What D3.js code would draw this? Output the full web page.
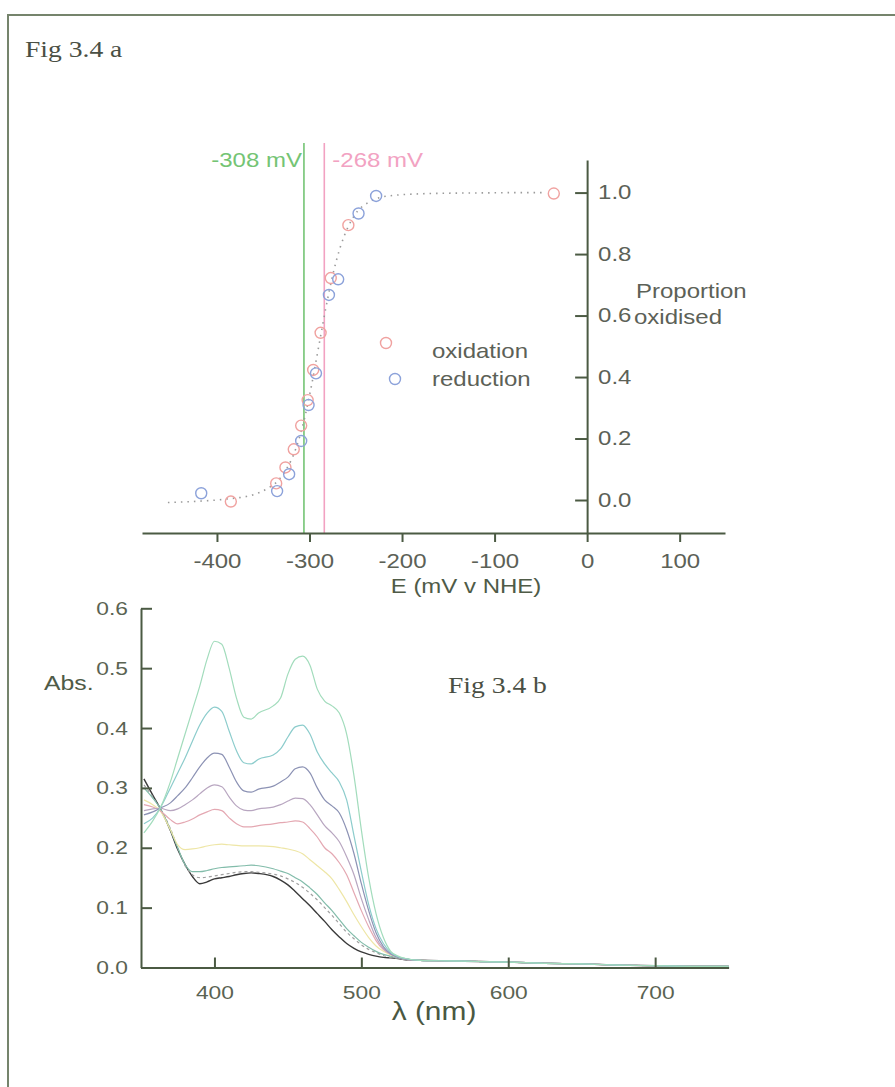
<!DOCTYPE html>
<html>
<head>
<meta charset="utf-8">
<script src="https://cdn.jsdelivr.net/npm/d3@7"></script>
<style>
  body { margin: 0; background: #fff; }
  svg { display: block; }
  .axis path, .axis line { stroke: #4b5a43; stroke-width: 2; }
</style>
</head>
<body>
<div id="fig"></div>
<script>

// ---- Fig 3.4 a : redox titration ----
var oxE  = [-385, -336, -326, -317, -309, -302, -296, -288, -277, -258, -36];
var oxP  = [-0.005, 0.054, 0.106, 0.165, 0.242, 0.325, 0.423, 0.544, 0.722, 0.894, 0.997];
var redE = [-417, -335, -322, -309, -301, -293, -279, -269, -247, -228];
var redP = [0.022, 0.029, 0.084, 0.192, 0.309, 0.412, 0.667, 0.718, 0.932, 0.989];

// dotted fit
var fitE = [-453, -420, -390, -360, -345, -335, -325, -315, -305, -298, -290, -282, -275, -267, -258, -248, -238, -225, -205, -180, -150, -110, -70, -45];
var fitP = [-0.008, -0.004, 0.003, 0.018, 0.038, 0.06, 0.1, 0.165, 0.27, 0.37, 0.5, 0.63, 0.73, 0.82, 0.89, 0.94, 0.965, 0.983, 0.992, 0.996, 0.998, 0.999, 1.0, 1.0];

var midE     = [-306, -284];
var midLabel = ["-308 mV", "-268 mV"];
var midColor = ["#74c474", "#f2a2c2"];

var eTicks = [-400, -300, -200, -100, 0, 100];
var pTicks = [0, 0.2, 0.4, 0.6, 0.8, 1.0];

// ---- Fig 3.4 b : spectra ----
var wl = [352, 358, 363, 370, 375, 380, 385, 390, 395, 400,
          405, 410, 415, 420, 425, 430, 440, 445, 450, 455,
          460, 465, 470, 475, 480, 485, 490, 495, 500, 505,
          510, 515, 520, 525, 530, 540, 560, 580, 600, 625,
          650, 675, 700, 725, 750];

var spec1 = [0.225, 0.245, 0.266, 0.31, 0.35, 0.39, 0.43, 0.47, 0.515, 0.545,
             0.54, 0.5, 0.45, 0.418, 0.415, 0.425, 0.437, 0.45, 0.49, 0.515,
             0.52, 0.505, 0.465, 0.445, 0.437, 0.425, 0.39, 0.32, 0.23, 0.15,
             0.09, 0.05, 0.027, 0.019, 0.015, 0.012, 0.011, 0.010, 0.009, 0.007,
             0.006, 0.004, 0.003, 0.002, 0.002];
var spec2 = [0.24, 0.25, 0.266, 0.3, 0.325, 0.35, 0.378, 0.405, 0.425, 0.435,
             0.428, 0.395, 0.362, 0.342, 0.34, 0.348, 0.355, 0.365, 0.385, 0.402,
             0.405, 0.39, 0.36, 0.34, 0.325, 0.31, 0.28, 0.22, 0.16, 0.105,
             0.065, 0.04, 0.025, 0.018, 0.015, 0.012, 0.011, 0.010, 0.009, 0.007,
             0.006, 0.004, 0.003, 0.002, 0.002];
var spec3 = [0.255, 0.26, 0.266, 0.275, 0.287, 0.3, 0.317, 0.335, 0.35, 0.358,
             0.356, 0.335, 0.31, 0.295, 0.293, 0.298, 0.303, 0.31, 0.318, 0.332,
             0.335, 0.325, 0.3, 0.28, 0.27, 0.258, 0.23, 0.19, 0.14, 0.095,
             0.058, 0.035, 0.023, 0.017, 0.014, 0.012, 0.011, 0.010, 0.009, 0.007,
             0.006, 0.004, 0.003, 0.002, 0.002];
var spec4 = [0.262, 0.265, 0.266, 0.262, 0.265, 0.272, 0.28, 0.29, 0.3, 0.305,
             0.302, 0.285, 0.27, 0.263, 0.262, 0.265, 0.268, 0.272, 0.278, 0.283,
             0.282, 0.272, 0.255, 0.237, 0.225, 0.21, 0.185, 0.155, 0.115, 0.08,
             0.05, 0.032, 0.022, 0.017, 0.014, 0.012, 0.011, 0.010, 0.009, 0.007,
             0.006, 0.004, 0.003, 0.002, 0.002];
var spec5 = [0.272, 0.268, 0.262, 0.247, 0.24, 0.243, 0.248, 0.255, 0.26, 0.264,
             0.262, 0.25, 0.24, 0.235, 0.235, 0.237, 0.24, 0.242, 0.243, 0.245,
             0.243, 0.232, 0.218, 0.2, 0.19, 0.175, 0.155, 0.125, 0.095, 0.068,
             0.045, 0.03, 0.022, 0.017, 0.014, 0.012, 0.011, 0.010, 0.009, 0.007,
             0.006, 0.004, 0.003, 0.002, 0.002];
var spec6 = [0.28, 0.272, 0.262, 0.23, 0.205, 0.197, 0.198, 0.2, 0.203, 0.205,
             0.206, 0.205, 0.204, 0.203, 0.203, 0.203, 0.202, 0.2, 0.198, 0.195,
             0.19, 0.18, 0.17, 0.16, 0.148, 0.13, 0.11, 0.088, 0.068, 0.05,
             0.036, 0.027, 0.021, 0.017, 0.014, 0.012, 0.011, 0.010, 0.009, 0.007,
             0.006, 0.004, 0.003, 0.002, 0.002];
var spec7 = [0.3, 0.283, 0.266, 0.23, 0.2, 0.172, 0.16, 0.16, 0.162, 0.165,
             0.167, 0.168, 0.169, 0.17, 0.171, 0.17, 0.165, 0.161, 0.157, 0.15,
             0.143, 0.133, 0.122, 0.108, 0.095, 0.08, 0.065, 0.053, 0.042, 0.034,
             0.027, 0.022, 0.019, 0.016, 0.014, 0.012, 0.011, 0.010, 0.009, 0.007,
             0.006, 0.004, 0.003, 0.002, 0.002];
var spec8 = [0.305, 0.285, 0.266, 0.232, 0.2, 0.17, 0.155, 0.15, 0.151, 0.153,
             0.155, 0.157, 0.159, 0.16, 0.16, 0.159, 0.156, 0.153, 0.148, 0.142,
             0.134, 0.124, 0.113, 0.1, 0.087, 0.073, 0.059, 0.048, 0.038, 0.03,
             0.025, 0.02, 0.017, 0.015, 0.013, 0.012, 0.011, 0.010, 0.009, 0.007,
             0.006, 0.004, 0.003, 0.002, 0.002];
var spec9 = [0.315, 0.288, 0.266, 0.229, 0.197, 0.172, 0.152, 0.14, 0.143, 0.148,
             0.15, 0.152, 0.155, 0.157, 0.158, 0.157, 0.152, 0.146, 0.138, 0.127,
             0.115, 0.103, 0.09, 0.077, 0.063, 0.051, 0.04, 0.032, 0.026, 0.022,
             0.019, 0.017, 0.016, 0.015, 0.013, 0.012, 0.011, 0.010, 0.009, 0.007,
             0.006, 0.004, 0.003, 0.002, 0.002];

var spectra     = [spec1, spec2, spec3, spec4, spec5, spec6, spec7, spec8, spec9];
var specColors  = ["#a2dcbc", "#8ccccc", "#8c92b4", "#b8a6c0", "#e4a8b2", "#eee6a6", "#82bcaa", "#a0a0a0", "#3a3a3a"];
var specDash    = [null, null, null, null, null, null, null, "3,3", null];

var wlTicks  = [400, 500, 600, 700];
var absTicks = [0.0, 0.1, 0.2, 0.3, 0.4, 0.5, 0.6];

var SX = 1.2;   // the scan is stretched sideways
var sans = "'Liberation Sans', Arial, sans-serif";
var serif = "'Liberation Serif', 'Times New Roman', serif";

var svg = d3.select("#fig").append("svg").attr("width", 895).attr("height", 1087);

function label(sel, x, y, s, o) {
    return sel.append("text")
        .attr("transform", "translate(" + x + "," + y + ") scale(" + (o.sx || SX) + ",1)")
        .attr("text-anchor", o.anchor || "start")
        .style("font-family", o.family || sans)
        .style("font-size", o.size + "px")
        .attr("fill", o.color || "#5c6157")
        .text(s);
}

// frame
svg.append("path")
    .attr("d", "M8,1087 L8,15 L895,15")
    .attr("fill", "none").attr("stroke", "#75846c").attr("stroke-width", 2);

label(svg, 25, 57, "Fig 3.4 a", {size: 23, family: serif, color: "#4a4f44", sx: 1.2});

// ---------------- top chart ----------------
var x = d3.scaleLinear().domain([-481, 149]).range([142, 725]);
var y = d3.scaleLinear().domain([-0.1073, 1.106]).range([533, 160]);

var gTop = svg.append("g");

// mid-point lines
midE.forEach(function (e, i) {
    gTop.append("line")
        .attr("x1", x(e)).attr("x2", x(e))
        .attr("y1", 143).attr("y2", 533)
        .attr("stroke", midColor[i]).attr("stroke-width", 1.6);
});
label(gTop, x(midE[0]) - 2, 167, midLabel[0], {size: 20, anchor: "end", color: midColor[0]});
label(gTop, x(midE[1]) + 8, 167, midLabel[1], {size: 20, color: midColor[1]});

var fit = d3.line()
    .x(function (d, i) { return x(fitE[i]); })
    .y(function (d) { return y(d); })
    .curve(d3.curveMonotoneX);

gTop.append("path")
    .datum(fitP)
    .attr("d", fit)
    .attr("fill", "none")
    .attr("stroke", "#9a9a9a")
    .attr("stroke-width", 1.6)
    .attr("stroke-dasharray", "1.5,5");

gTop.selectAll(".ox").data(oxE).enter().append("circle")
    .attr("cx", function (d) { return x(d); })
    .attr("cy", function (d, i) { return y(oxP[i]); })
    .attr("r", 5.5)
    .attr("fill", "none").attr("stroke", "#f0a2a0").attr("stroke-width", 1.4);

gTop.selectAll(".red").data(redE).enter().append("circle")
    .attr("cx", function (d) { return x(d); })
    .attr("cy", function (d, i) { return y(redP[i]); })
    .attr("r", 5.5)
    .attr("fill", "none").attr("stroke", "#8ca2da").attr("stroke-width", 1.4);

// legend
gTop.append("circle").attr("cx", 386).attr("cy", 343).attr("r", 5.5)
    .attr("fill", "none").attr("stroke", "#f0a2a0").attr("stroke-width", 1.4);
gTop.append("circle").attr("cx", 395).attr("cy", 379).attr("r", 5.5)
    .attr("fill", "none").attr("stroke", "#8ca2da").attr("stroke-width", 1.4);
label(gTop, 432, 358, "oxidation", {size: 20});
label(gTop, 432, 386, "reduction", {size: 20});

// axes (plain hyphen minus like the original)
var xAx = gTop.append("g")
    .attr("class", "axis")
    .attr("transform", "translate(0,533)")
    .call(d3.axisBottom(x).tickValues(eTicks).tickFormat(function (d) { return String(d); })
          .tickSize(9).tickSizeOuter(0).tickPadding(12));
xAx.selectAll("text")
    .attr("transform", "scale(" + SX + ",1)")
    .style("font-family", sans).style("font-size", "20px").attr("fill", "#5c6157");

var yAx = gTop.append("g")
    .attr("class", "axis")
    .attr("transform", "translate(" + x(0) + ",0)")
    .call(d3.axisLeft(y).tickValues(pTicks).tickFormat(d3.format(".1f")).tickSize(12).tickSizeOuter(0));
yAx.selectAll("text")
    .attr("x", 11 / SX)
    .attr("text-anchor", "start")
    .attr("transform", "scale(" + SX + ",1)")
    .style("font-family", sans).style("font-size", "20px").attr("fill", "#5c6157");

label(gTop, 636, 298, "Proportion", {size: 20});
label(gTop, 634, 324, "oxidised", {size: 20});
label(gTop, 466, 593, "E (mV v NHE)", {size: 20, anchor: "middle", color: "#4f5b47"});

// ---------------- bottom chart ----------------
var xs = d3.scaleLinear().domain([350, 750]).range([141, 728.6]);
var ys = d3.scaleLinear().domain([0, 0.6]).range([967.5, 608.3]);

var gBot = svg.append("g");

var specLine = d3.line()
    .x(function (d, i) { return xs(wl[i]); })
    .y(function (d) { return ys(d); })
    .curve(d3.curveMonotoneX);

// draw light ones first, black on top
spectra.slice().reverse().forEach(function (s, j) {
    var i = spectra.length - 1 - j;
    gBot.append("path")
        .datum(s)
        .attr("d", specLine)
        .attr("fill", "none")
        .attr("stroke", specColors[i])
        .attr("stroke-width", i === 8 ? 1.4 : 1.2)
        .attr("stroke-dasharray", specDash[i]);
});

var xbAx = gBot.append("g")
    .attr("class", "axis")
    .attr("transform", "translate(0,967.5)")
    .call(d3.axisBottom(xs).tickValues(wlTicks).tickSize(-10).tickSizeOuter(0).tickPadding(18));
xbAx.selectAll("text")
    .attr("transform", "scale(" + SX + ",1)")
    .style("font-family", sans).style("font-size", "19px").attr("fill", "#5a6352");

var ybAx = gBot.append("g")
    .attr("class", "axis")
    .attr("transform", "translate(141,0)")
    .call(d3.axisLeft(ys).tickValues(absTicks).tickFormat(d3.format(".1f")).tickSize(-11).tickSizeOuter(0));
ybAx.selectAll("text")
    .attr("x", -13 / SX)
    .attr("transform", "scale(" + SX + ",1)")
    .style("font-family", sans).style("font-size", "19px").attr("fill", "#5a6352");

label(gBot, 44, 690, "Abs.", {size: 21, color: "#4f5b47", sx: 1.18});
label(gBot, 434, 1020, "\u03bb (nm)", {size: 26, anchor: "middle", color: "#4a5842", sx: 1.15});
label(gBot, 448, 693, "Fig 3.4 b", {size: 24, family: serif, color: "#4a4f44", sx: 1.15});

</script>
</body>
</html>
